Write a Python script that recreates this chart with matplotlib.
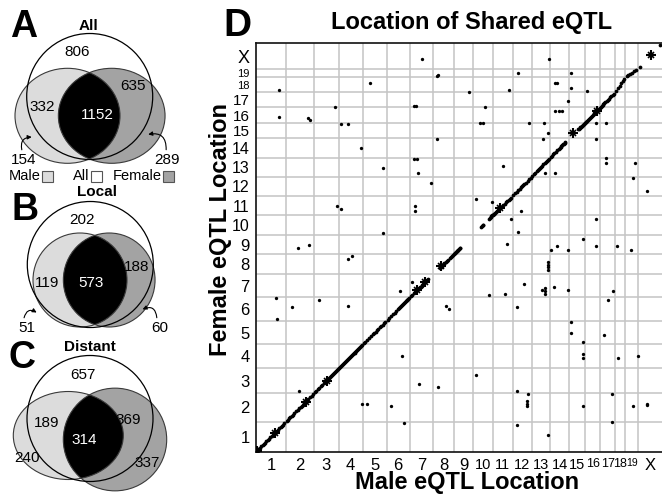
import matplotlib
matplotlib.use('Agg')
import matplotlib.pyplot as plt
from matplotlib.patches import Ellipse, Circle, Rectangle, FancyArrowPatch
import numpy as np

plt.rcParams['font.family'] = ['Liberation Sans', 'DejaVu Sans']

# ---- Venn data (A: All, B: Local, C: Distant) ----
venn_titles = ['All', 'Local', 'Distant']
all_only = [806, 202, 657]
male_and_all = [332, 119, 189]
female_and_all = [635, 188, 369]
shared = [1152, 573, 314]
male_only = [154, 51, 240]
female_only = [289, 60, 337]

# ---- eQTL location data ----
chrom_labels = ['1', '2', '3', '4', '5', '6', '7', '8', '9', '10', '11', '12',
                '13', '14', '15', '16', '17', '18', '19', 'X']
male_chrom_len = [195, 182, 162, 154, 156, 151, 153, 133, 128, 124, 130, 125,
                  119, 124, 104, 98, 98, 65, 83, 156]
female_chrom_len = [195, 185, 162, 156, 153, 154, 150, 130, 124, 130, 124, 125,
                    125, 125, 101, 100, 98, 98, 54, 167]

# shared eQTL at the same place (chromosome -> relative positions)
diag_eqtl = {
    1: [0.02, 0.04, 0.06, 0.08, 0.1, 0.13, 0.18, 0.22, 0.26, 0.3, 0.35, 0.4, 0.44,
        0.48, 0.52, 0.56, 0.6, 0.63, 0.66, 0.7, 0.74, 0.78, 0.82, 0.86, 0.9, 0.95],
    2: [0.03, 0.07, 0.12, 0.16, 0.2, 0.24, 0.3, 0.36, 0.42, 0.48, 0.52, 0.56, 0.6,
        0.63, 0.66, 0.7, 0.73, 0.76, 0.8, 0.86, 0.92, 0.97],
    3: [0.04, 0.1, 0.16, 0.22, 0.28, 0.34, 0.4, 0.45, 0.5, 0.54, 0.58, 0.62, 0.66,
        0.7, 0.74, 0.78, 0.82, 0.86, 0.9, 0.94, 0.98],
    4: [0.02, 0.06, 0.1, 0.14, 0.18, 0.22, 0.26, 0.3, 0.34, 0.38, 0.42, 0.46, 0.5,
        0.54, 0.58, 0.62, 0.66, 0.7, 0.74, 0.78, 0.82, 0.86, 0.9, 0.94, 0.98],
    5: [0.04, 0.12, 0.2, 0.28, 0.35, 0.42, 0.48, 0.54, 0.6, 0.66, 0.72, 0.78,
        0.84, 0.9, 0.95],
    6: [0.05, 0.12, 0.2, 0.28, 0.35, 0.42, 0.48, 0.53, 0.58, 0.62, 0.66, 0.7,
        0.74, 0.78, 0.82, 0.86, 0.9, 0.94, 0.97],
    7: [0.04, 0.1, 0.16, 0.22, 0.26, 0.3, 0.34, 0.38, 0.42, 0.46, 0.5, 0.54,
        0.58, 0.62, 0.66, 0.7, 0.74, 0.78],
    8: [0.32, 0.38, 0.42, 0.46, 0.5, 0.54, 0.6, 0.66, 0.72, 0.8, 0.86, 0.92, 0.96],
    9: [0.02, 0.05, 0.08, 0.11, 0.14, 0.17, 0.2, 0.23, 0.26, 0.3, 0.33],
    10: [0.4, 0.44, 0.48, 0.52, 0.82, 0.86, 0.9, 0.94, 0.98],
    11: [0.02, 0.05, 0.08, 0.12, 0.16, 0.2, 0.28, 0.36, 0.44, 0.52, 0.6, 0.68,
         0.74, 0.8, 0.86, 0.92],
    12: [0.05, 0.14, 0.22, 0.3, 0.38, 0.45, 0.5, 0.55, 0.62, 0.7, 0.78, 0.86, 0.94],
    13: [0.04, 0.12, 0.2, 0.28, 0.34, 0.4, 0.46, 0.52, 0.58, 0.64, 0.7, 0.76,
         0.82, 0.88, 0.94],
    14: [0.04, 0.1, 0.16, 0.22, 0.3, 0.38, 0.45, 0.5, 0.55, 0.6, 0.64, 0.68,
         0.72, 0.76, 0.8],
    15: [0.58, 0.62, 0.66, 0.7, 0.74, 0.78, 0.82, 0.86, 0.9, 0.94, 0.98],
    16: [0.03, 0.08, 0.14, 0.2, 0.26, 0.32, 0.38, 0.44, 0.5, 0.56, 0.62, 0.68,
         0.74, 0.8, 0.86, 0.92, 0.97],
    17: [0.04, 0.1, 0.16, 0.22, 0.28, 0.34, 0.42, 0.5, 0.58, 0.66, 0.74, 0.82, 0.9],
    18: [0.1, 0.3, 0.45, 0.6, 0.75, 0.9],
    19: [0.1, 0.25, 0.4, 0.55, 0.7, 0.85],
    20: [0.08, 0.92],
}

# dense clusters on the diagonal (male chr, male rel, female chr, female rel)
cluster_eqtl = [(1, 0.03, 1, 0.04), (1, 0.63, 1, 0.62), (2, 0.71, 2, 0.7),
                (3, 0.51, 3, 0.5), (7, 0.64, 7, 0.65), (7, 0.32, 7, 0.3),
                (8, 0.4, 8, 0.42), (11, 0.37, 11, 0.36), (15, 0.25, 15, 0.36),
                (16, 0.76, 16, 0.74), (20, 0.53, 20, 0.54)]

# shared eQTL at different places (male chr, male rel, female chr, female rel)
trans_eqtl = [
    (7, .54, 20, .38), (13, .93, 20, .38), (8, .23, 19, .24), (8, .19, 19, .12),
    (12, .26, 19, .48), (15, .09, 19, .55), (1, .78, 18, .15), (5, .30, 18, .60),
    (9, .75, 18, .04), (11, .80, 18, .15), (14, .27, 18, .64), (14, .39, 18, .64),
    (15, .09, 18, .31), (16, .13, 18, .11), (3, .84, 17, .04), (7, .19, 17, .09),
    (7, .28, 17, .09), (10, .63, 17, .04), (14, .92, 17, .44), (14, .25, 16, .76),
    (14, .45, 16, .76), (14, .62, 16, .76), (1, .77, 16, .35), (2, .80, 16, .29),
    (2, .86, 16, .18), (4, .08, 15, .92), (4, .39, 15, .90), (10, .36, 15, .96),
    (10, .49, 15, .96), (12, .86, 15, .96), (13, .66, 15, .96), (16, .71, 15, .99),
    (17, .38, 15, .96), (13, .89, 15, .32), (13, .62, 14, .99), (16, .71, 14, .99),
    (8, .20, 14, .99), (4, .94, 14, .48), (7, .17, 13, .91), (7, .30, 13, .91),
    (17, .36, 13, .96), (17, .36, 13, .70), (19, .76, 13, .70), (5, .86, 13, .44),
    (11, .53, 13, .57), (7, .33, 13, .18), (13, .71, 13, .18), (14, .25, 13, .18),
    (7, .92, 12, .66), (19, .63, 12, .92), (20, .36, 12, .27), (3, .91, 11, .49),
    (4, .11, 11, .32), (7, .23, 11, .47), (7, .24, 11, .23), (10, .11, 11, .84),
    (10, .95, 11, .70), (12, .43, 11, .23), (11, .92, 10, .80), (16, .69, 10, .80),
    (5, .86, 10, .12), (12, .26, 10, .17), (15, .84, 9, .79), (11, .73, 9, .51),
    (2, .42, 9, .30), (2, .83, 9, .47), (14, .07, 9, .21), (14, .34, 9, .42),
    (14, .92, 9, .21), (16, .71, 9, .42), (18, .14, 9, .44), (19, .43, 9, .21),
    (4, .39, 8, .75), (4, .56, 8, .92), (13, .89, 8, .62), (13, .89, 8, .48),
    (13, .89, 8, .34), (13, .89, 8, .22), (7, .10, 7, .64), (6, .60, 7, .26),
    (12, .59, 7, .55), (13, .58, 7, .30), (13, .71, 7, .39), (13, .71, 7, .26),
    (13, .71, 7, .15), (14, .19, 7, .42), (14, .92, 7, .30), (10, .82, 7, .09),
    (11, .62, 7, .12), (17, .87, 7, .27), (17, .53, 6, .90), (1, .67, 6, .95),
    (3, .20, 6, .87), (2, .21, 6, .57), (4, .37, 6, .62), (8, .60, 6, .62),
    (8, .76, 6, .49), (12, .21, 6, .59), (1, .69, 6, .07), (15, .09, 5, .96),
    (15, .11, 5, .47), (15, .84, 5, .11), (17, .27, 5, .39), (6, .66, 4, .51),
    (15, .84, 4, .60), (15, .84, 4, .45), (18, .24, 4, .42), (19, .97, 4, .51),
    (10, .11, 3, .73), (7, .40, 3, .36), (8, .22, 3, .26), (2, .46, 3, .10),
    (12, .21, 3, .10), (12, .81, 2, .99), (17, .76, 2, .99), (4, .96, 2, .62),
    (5, .17, 2, .62), (6, .17, 2, .56), (12, .76, 2, .73), (12, .76, 2, .64),
    (12, .76, 2, .56), (15, .84, 2, .56), (19, .63, 2, .56), (20, .36, 2, .62),
    (20, .37, 2, .60), (6, .74, 1, .97), (12, .21, 1, .89), (17, .76, 1, .99),
    (13, .89, 1, .56),
]

W, H = 662, 495
fig = plt.figure(figsize=(W / 100, H / 100), dpi=100)


def ftext(x, y, s, **kw):
    # place text using pixel coordinates of the figure
    return fig.text(x / W, 1 - y / H, s, **kw)


# ---- Venn panels drawn in pixel space ----
vax = fig.add_axes([0, 0, 1, 1])
vax.set_xlim(0, W)
vax.set_ylim(H, 0)
vax.axis('off')

male_col = '#dcdcdc'
female_col = '#a3a3a3'
edge_col = '#3a3a3a'

venn_layout = [
    dict(all=(89.7, 96.5, 63), male=(67.5, 115.8, 105, 95), female=(111.7, 115.8, 106.7, 95),
         title=(88.5, 26.5), letter=(24, 27),
         t_all=(76.7, 51.7), t_m=(42.7, 106.7), t_f=(132.7, 86), t_s=(97.3, 115),
         t_mo=(23.3, 160.5), t_fo=(166.7, 160.5),
         arrows=[((22.5, 152.5), (34.5, 137), -0.7), ((166, 152.5), (145.5, 135), 0.7)]),
    dict(all=(90.3, 264.5, 63), male=(80, 280, 94, 94), female=(109.2, 280, 91.7, 94),
         title=(96.7, 192), letter=(25, 210),
         t_all=(81.7, 220), t_m=(46.7, 283.3), t_f=(136.7, 266.7), t_s=(90.7, 283.3),
         t_mo=(26.7, 328), t_fo=(159.3, 328.5),
         arrows=[((23.5, 320.5), (39, 314), -0.8), ((157, 320.5), (140, 310.5), 0.8)]),
    dict(all=(90, 418.5, 63), male=(68.3, 435.5, 110, 88), female=(115, 439.5, 103.4, 102.7),
         title=(90, 347), letter=(22, 358),
         t_all=(83.3, 375), t_m=(46.7, 423.3), t_f=(128.3, 420), t_s=(84, 440),
         t_mo=(26.7, 458.3), t_fo=(146.7, 462.7),
         arrows=[]),
]

for i, lay in enumerate(venn_layout):
    mx, my, mw, mh = lay['male']
    fx, fy, fw, fh = lay['female']
    m_e = Ellipse((mx, my), mw, mh, facecolor=male_col, edgecolor='none', zorder=1)
    f_e = Ellipse((fx, fy), fw, fh, facecolor=female_col, edgecolor='none', zorder=2)
    vax.add_patch(m_e)
    vax.add_patch(f_e)
    clip_e = Ellipse((mx, my), mw, mh, facecolor='none', edgecolor='none')
    vax.add_patch(clip_e)
    lens = Ellipse((fx, fy), fw, fh, facecolor='black', edgecolor='none', zorder=3)
    vax.add_patch(lens)
    lens.set_clip_path(clip_e)
    for (cx, cy, w, h) in (lay['male'], lay['female']):
        vax.add_patch(Ellipse((cx, cy), w, h, facecolor='none', edgecolor=edge_col,
                              lw=0.8, zorder=4))
    ax_, ay_, ar_ = lay['all']
    vax.add_patch(Circle((ax_, ay_), ar_, facecolor='none', edgecolor='black',
                         lw=0.9, zorder=5))

    fs = 11
    vax.text(*lay['t_all'], str(all_only[i]), fontsize=fs, ha='center', va='center', zorder=6)
    vax.text(*lay['t_m'], str(male_and_all[i]), fontsize=fs, ha='center', va='center', zorder=6)
    vax.text(*lay['t_f'], str(female_and_all[i]), fontsize=fs, ha='center', va='center', zorder=6)
    vax.text(*lay['t_s'], str(shared[i]), fontsize=fs, ha='center', va='center',
             color='white', zorder=6)
    vax.text(*lay['t_mo'], str(male_only[i]), fontsize=fs, ha='center', va='center', zorder=6)
    vax.text(*lay['t_fo'], str(female_only[i]), fontsize=fs, ha='center', va='center', zorder=6)
    vax.text(*lay['title'], venn_titles[i], fontsize=11, fontweight='bold',
             ha='center', va='center', zorder=6)
    vax.text(*lay['letter'], 'ABC'[i], fontsize=27, fontweight='bold',
             ha='center', va='center', zorder=6)
    for start, end, rad in lay['arrows']:
        vax.add_patch(FancyArrowPatch(start, end, connectionstyle=f'arc3,rad={rad}',
                                      arrowstyle='-|>', mutation_scale=6, lw=0.8,
                                      color='black', zorder=6))

# legend of panel A
legend_items = [('Male', 40.5, male_col), ('All', 89.5, 'white'), ('Female', 161.5, female_col)]
for name, xr, col in legend_items:
    vax.text(xr, 176, name, fontsize=10.5, ha='right', va='center')
    vax.add_patch(Rectangle((xr + 1.5, 170.5), 11, 11, facecolor=col,
                            edgecolor='#555555', lw=0.8))

# ---- panel D: scatter of shared eQTL locations ----
x0, x1, y_top, y_bot = 256, 662, 43.3, 451.7
ax = fig.add_axes([x0 / W, 1 - y_bot / H, (x1 - x0) / W, (y_bot - y_top) / H])

m_off = np.concatenate([[0], np.cumsum(male_chrom_len)])
f_off = np.concatenate([[0], np.cumsum(female_chrom_len)])


def mpos(c, r):
    return m_off[c - 1] + r * male_chrom_len[c - 1]


def fpos(c, r):
    return f_off[c - 1] + r * female_chrom_len[c - 1]


ax.set_xlim(0, m_off[-1])
ax.set_ylim(0, f_off[-1])

for b in m_off[1:-1]:
    ax.axvline(b, color='#c4c4c4', lw=1.1, zorder=0)
for b in f_off[1:-1]:
    ax.axhline(b, color='#c4c4c4', lw=1.1, zorder=0)

dx, dy = [], []
for c, rels in diag_eqtl.items():
    for r in rels:
        dx.append(mpos(c, r))
        dy.append(fpos(c, r))
ax.plot(dx, dy, 'o', color='black', ms=2.7, mew=0, zorder=3)

tx = [mpos(a, b) for a, b, _, _ in trans_eqtl]
ty = [fpos(c, d) for _, _, c, d in trans_eqtl]
ax.plot(tx, ty, 'o', color='black', ms=2.4, mew=0, zorder=3)

cx = [mpos(a, b) for a, b, _, _ in cluster_eqtl]
cy = [fpos(c, d) for _, _, c, d in cluster_eqtl]
ax.plot(cx, cy, '+', color='black', ms=7, mew=1.5, zorder=4)
ax.plot(cx, cy, 'x', color='black', ms=4.5, mew=1.2, zorder=4)

ax.set_xticks((m_off[:-1] + m_off[1:]) / 2)
ax.set_xticklabels(chrom_labels)
ax.set_yticks((f_off[:-1] + f_off[1:]) / 2)
ax.set_yticklabels(chrom_labels)
ax.tick_params(length=0, pad=4.5)

x_sizes = [12] * 9 + [10.5] * 6 + [9, 9, 9, 7.5, 12]
y_sizes = [12] * 9 + [11.5] * 5 + [11, 11, 11, 8, 8, 13]
for lab, s in zip(ax.get_xticklabels(), x_sizes):
    lab.set_fontsize(s)
for lab, s in zip(ax.get_yticklabels(), y_sizes):
    lab.set_fontsize(s)

for side in ('left', 'top', 'bottom'):
    ax.spines[side].set_linewidth(1.2)
    ax.spines[side].set_color('#111111')
ax.spines['right'].set_visible(False)

ftext(237, 26, 'D', fontsize=28, fontweight='bold', ha='center', va='center')
ftext(472, 22, 'Location of Shared eQTL', fontsize=17, fontweight='bold',
      ha='center', va='center')
ftext(466.7, 483, 'Male eQTL Location', fontsize=17, fontweight='bold',
      ha='center', va='center')
ftext(221, 230, 'Female eQTL Location', fontsize=17, fontweight='bold',
      ha='center', va='center', rotation=90)

fig.savefig('out.png', dpi=100)
